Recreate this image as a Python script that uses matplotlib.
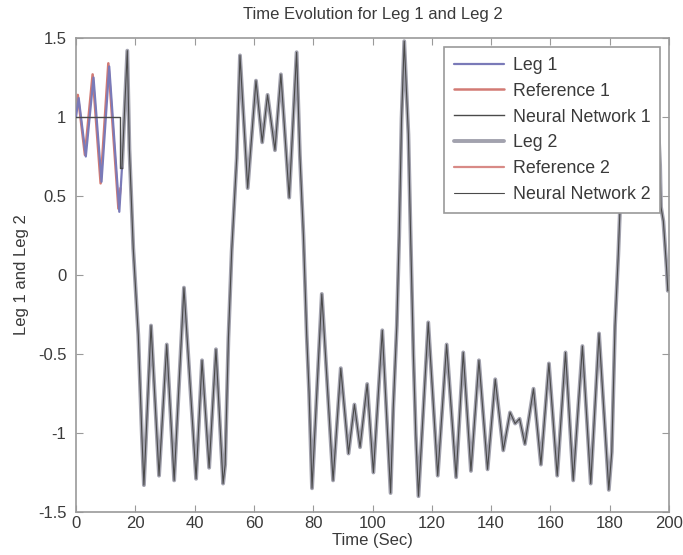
import matplotlib
matplotlib.use("Agg")
import matplotlib.pyplot as plt

plt.rcParams['font.family'] = ['Liberation Sans', 'DejaVu Sans']

# Leg 1 phase (first 15 s): reference, measured leg, and network output
ref1_t = [0.0, 0.6, 3.0, 5.6, 8.3, 10.9, 14.3, 15.0]
ref1_y = [1.05, 1.14, 0.76, 1.27, 0.58, 1.34, 0.42, 0.55]

leg1_t = [0.0, 0.9, 3.3, 5.9, 8.6, 11.2, 14.6, 15.5]
leg1_y = [1.00, 1.12, 0.75, 1.25, 0.59, 1.32, 0.40, 0.68]

nn1_t = [0.0, 14.8, 14.8, 15.5]
nn1_y = [1.0, 1.0, 0.68, 0.68]

# Leg 2 trajectory (t in seconds, joint value)
leg2_t = [15.5, 17.3, 18.0, 19.3, 21.0, 22.2, 22.9,
          25.3, 28.0, 30.6, 33.1, 36.4, 40.5, 42.5, 44.9, 47.2, 49.6,
          50.3, 51.4, 52.5, 54.2, 55.3,
          57.9, 60.7, 62.8, 64.6, 67.1, 69.1, 71.9, 74.4,
          75.5, 76.7, 77.8, 78.6, 79.6,
          82.9, 86.7, 89.3, 91.9, 93.9, 95.8, 98.2, 100.3, 103.3, 106.1,
          107.0, 108.2, 109.0, 109.8, 110.7,
          112.1, 112.9, 113.8, 114.6, 115.5,
          118.8, 122.0, 125.0, 128.2, 130.6, 133.2, 135.9, 138.8, 141.4,
          144.1, 146.4, 148.1, 149.6, 151.4, 154.3, 156.8, 159.5, 162.3,
          165.1, 167.7, 170.8, 173.6, 176.4, 179.7,
          180.7, 181.8, 182.9, 183.5, 184.5, 186.0,
          188.5, 191.0, 193.5, 195.5, 197.0, 197.3, 198.1, 199.2, 199.6]
leg2_y = [0.68, 1.42, 0.80, 0.17, -0.38, -1.01, -1.33,
          -0.32, -1.27, -0.44, -1.30, -0.08, -1.29, -0.54, -1.22, -0.47, -1.32,
          -1.20, -0.40, 0.15, 0.74, 1.39,
          0.55, 1.23, 0.84, 1.14, 0.79, 1.27, 0.49, 1.41,
          0.76, 0.25, -0.38, -0.74, -1.35,
          -0.12, -1.30, -0.59, -1.13, -0.82, -1.09, -0.69, -1.25, -0.35, -1.38,
          -0.84, -0.32, 0.25, 0.99, 1.48,
          0.89, 0.21, -0.51, -1.01, -1.40,
          -0.30, -1.27, -0.44, -1.28, -0.49, -1.24, -0.54, -1.23, -0.66,
          -1.11, -0.87, -0.94, -0.91, -1.07, -0.72, -1.20, -0.56, -1.27,
          -0.49, -1.30, -0.45, -1.32, -0.37, -1.36,
          -1.12, -0.32, 0.13, 0.43, 0.95, 1.35,
          0.75, 1.25, 0.85, 1.30, 0.69, 0.43, 0.34, 0.04, -0.10]

x_ticks = [0, 20, 40, 60, 80, 100, 120, 140, 160, 180, 200]
y_ticks = [-1.5, -1, -0.5, 0, 0.5, 1, 1.5]
y_tick_labels = ['-1.5', '-1', '-0.5', '0', '0.5', '1', '1.5']

text_color = '#3a3a3a'
frame_color = '#9a9a9a'
fs = 12

fig = plt.figure(figsize=(6.83, 5.55), dpi=100)
ax = fig.add_axes([0.1113, 0.0775, 0.8682, 0.854])

line_kw = dict(solid_joinstyle='round', solid_capstyle='round')
ax.plot(leg1_t, leg1_y, color='#7a7ab8', lw=1.6, label='Leg 1', zorder=3, **line_kw)
ax.plot(ref1_t, ref1_y, color='#d27a74', lw=1.8, label='Reference 1', zorder=2, **line_kw)
ax.plot(nn1_t, nn1_y, color='#4a4a4a', lw=1.0, label='Neural Network 1', zorder=4)
ax.plot(leg2_t, leg2_y, color='#a2a2ae', lw=2.8, label='Leg 2', zorder=2, **line_kw)
ax.plot(leg2_t, leg2_y, color='#d88a86', lw=1.6, label='Reference 2', zorder=1, **line_kw)
ax.plot(leg2_t, leg2_y, color='#4a4a4a', lw=0.8, label='Neural Network 2', zorder=3, **line_kw)

ax.set_xlim(0, 200)
ax.set_ylim(-1.5, 1.5)
ax.set_xticks(x_ticks)
ax.set_yticks(y_ticks)
ax.set_yticklabels(y_tick_labels)

ax.tick_params(direction='in', length=5, color=frame_color, labelcolor=text_color,
               labelsize=fs, top=True, right=True)
ax.tick_params(axis='y', pad=7)
ax.tick_params(axis='x', pad=3)
for sp in ax.spines.values():
    sp.set_color(frame_color)
    sp.set_linewidth(1.2)

ax.set_title('Time Evolution for Leg 1 and Leg 2', color=text_color, fontsize=fs, pad=14)
ax.set_xlabel('Time (Sec)', color=text_color, fontsize=fs, labelpad=1)
ax.set_ylabel('Leg 1 and Leg 2', color=text_color, fontsize=fs, labelpad=6)

leg = ax.legend(loc='upper right', bbox_to_anchor=(0.985, 0.981), fancybox=False,
                framealpha=1.0, edgecolor=frame_color, fontsize=12.8,
                handlelength=2.8, handletextpad=0.5, labelspacing=0.5,
                borderpad=0.55, borderaxespad=0.0)
leg.get_frame().set_linewidth(1.2)
for txt in leg.get_texts():
    txt.set_color(text_color)

fig.savefig('out.png', dpi=100)
